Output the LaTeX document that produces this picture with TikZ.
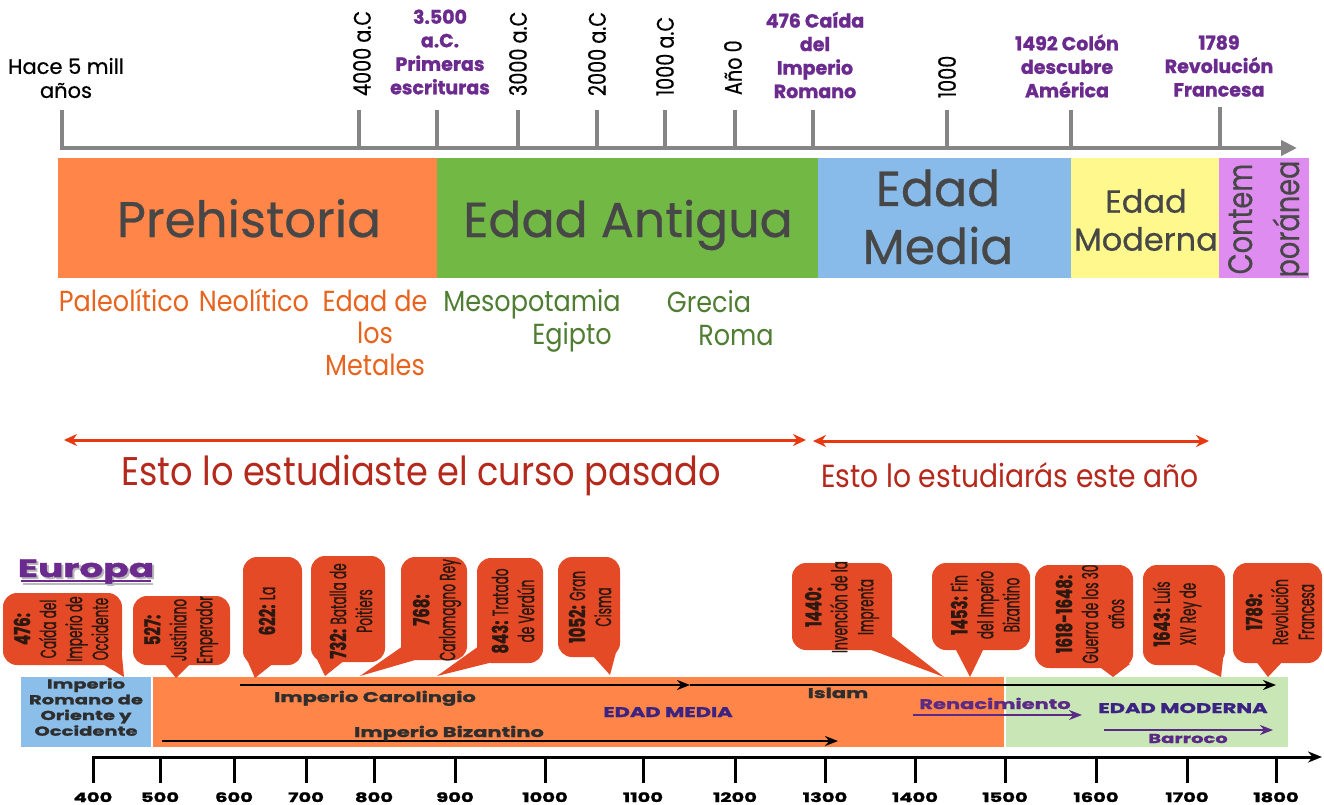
\documentclass[tikz,border=0pt]{standalone}
\usepackage{fontspec}
\setmainfont{Poppins}
\newfontfamily\condf[FakeStretch=0.55, FakeBold=1.0, BoldFeatures={FakeStretch=0.68}]{Poppins}
\newfontfamily\topcondf[FakeStretch=0.8, FakeBold=0.4]{Poppins}
\newfontfamily\narrowf[FakeStretch=0.88]{Poppins}
\newfontfamily\widef[FakeStretch=1.5, BoldFeatures={FakeBold=1.5}]{Poppins}
\newfontfamily\heavyf[BoldFeatures={FakeBold=1.2}]{Poppins}
\newfontfamily\medf[FakeBold=0.6]{Poppins}
\usetikzlibrary{arrows.meta}
\definecolor{axisgray}{HTML}{858585}
\definecolor{purpleT}{HTML}{6B2A8E}
\definecolor{bandtext}{HTML}{474747}
\definecolor{orangeB}{HTML}{FF8548}
\definecolor{greenB}{HTML}{72B845}
\definecolor{blueB}{HTML}{88BBE9}
\definecolor{yellowB}{HTML}{FFF88C}
\definecolor{violetB}{HTML}{DF8CF0}
\definecolor{orangeT}{HTML}{E8641E}
\definecolor{greenT}{HTML}{4F7D32}
\definecolor{redA}{HTML}{E8380F}
\definecolor{redT}{HTML}{B5281C}
\definecolor{callC}{HTML}{E54A26}
\definecolor{callT}{HTML}{2B1810}
\definecolor{lblue}{HTML}{8CBEEA}
\definecolor{lgreen}{HTML}{C9E6B6}
\definecolor{navyT}{HTML}{3A2383}
\definecolor{purpleB}{HTML}{5B2A86}
\definecolor{boxT}{HTML}{2E2E2E}
\newcommand{\mycallout}[8]{%
  \fill[callC, rounded corners=14pt] (#2,#3) rectangle (#4,#5);
  \fill[callC] #6 -- cycle;
  \node[calltext] (#1) at #7 {#8};
}
\begin{document}
\begin{tikzpicture}[x=1pt,y=-1pt]
\tikzset{
  every node/.append style={inner sep=0pt, outer sep=0pt},
  gaxis/.style={draw=axisgray, line width=4pt},
  purplelab/.style={text=purpleT, font=\heavyf\bfseries\fontsize{19}{23.5}\selectfont, align=center},
  rotlab/.style={rotate=90, anchor=west, text=black, font=\topcondf\fontsize{24}{28}\selectfont},
  bandlab/.style={text=bandtext},
  orlab/.style={text=orangeT, anchor=base, font=\narrowf\fontsize{29}{32}\selectfont},
  grlab/.style={text=greenT, anchor=base, font=\narrowf\fontsize{29}{32}\selectfont},
  redarrow/.style={draw=redA, line width=3pt, arrows={Stealth[length=13pt,width=12pt]-Stealth[length=13pt,width=12pt]}},
  redtext/.style={text=redT, anchor=base},
  calltext/.style={text=callT, rotate=90, align=center, font=\condf\fontsize{22}{26}\selectfont},
  boxlab/.style={text=boxT, anchor=base, font=\widef\bfseries\fontsize{14}{17}\selectfont},
  blackarrow/.style={draw=black, line width=2.5pt, arrows={-Stealth[length=13pt,width=10pt]}},
  purplearrow/.style={draw=purpleB, line width=2.5pt, arrows={-Stealth[length=13pt,width=10pt]}},
  numlab/.style={text=black, anchor=base, font=\widef\bfseries\fontsize{13}{16}\selectfont}
}
\useasboundingbox[fill=white] (0,0) rectangle (1324,805);

% ---------- top axis ----------
\foreach \x in {62,359,437,518,597,665,735,813,947,1071}
  \draw[gaxis] (\x,110) -- (\x,148);
\draw[gaxis] (1220,107) -- (1220,148);
\coordinate (ta0) at (60,148);
\coordinate (ta1) at (1297,148);
\draw[gaxis, arrows={-Triangle[length=16pt,width=15pt]}] (ta0) -- (ta1);

\node[align=center, text=black, font=\medf\fontsize{21}{24}\selectfont] (hace) at (66,78) {Hace 5 mill\\años};
\node[rotlab] (l4000) at (362,96) {4000 a.C};
\node[rotlab] (l3000) at (518,96) {3000 a.C};
\node[rotlab] (l2000) at (597,96) {2000 a.C};
\node[rotlab] (l1000ac) at (665,96) {1000 a.C};
\node[rotlab] (lano0) at (733,95) {Año 0};
\node[rotlab] (l1000) at (947,98) {1000};
\node[purplelab] (p3500) at (440,52) {3.500\\a.C.\\Primeras\\escrituras};
\node[purplelab] (p476) at (815,55) {476 Caída\\del\\Imperio\\Romano};
\node[purplelab] (p1492) at (1067,66) {1492 Colón\\descubre\\América};
\node[purplelab] (p1789) at (1219,66) {1789\\Revolución\\Francesa};

% ---------- bands ----------
\fill[orangeB] (58,158) rectangle (437,278);
\fill[greenB] (437,158) rectangle (818,278);
\fill[blueB] (818,158) rectangle (1071,278);
\fill[yellowB] (1071,158) rectangle (1219,278);
\fill[violetB] (1219,158) rectangle (1309,278);
\node[bandlab, anchor=base, font=\medf\fontsize{50}{60}\selectfont] (prehist) at (249,237) {Prehistoria};
\node[bandlab, anchor=base, font=\medf\fontsize{49}{58}\selectfont] (antigua) at (628,237) {Edad Antigua};
\node[bandlab, align=center, font=\medf\fontsize{49}{58}\selectfont] (media) at (938,217) {Edad\\Media};
\node[bandlab, align=center, font=\medf\fontsize{32}{38}\selectfont] (moderna) at (1146,220) {Edad\\Moderna};
\node[bandlab, rotate=90, align=center, font=\topcondf\fontsize{34}{47}\selectfont] (contemp) at (1268,219) {Contem\\poránea};

% ---------- sub periods ----------
\node[orlab] (paleo) at (124,311) {Paleolítico};
\node[orlab] (neo) at (254,311) {Neolítico};
\node[orlab, anchor=center, align=center] (metales) at (375,333) {Edad de\\los\\Metales};
\node[grlab] (meso) at (532,311) {Mesopotamia};
\node[grlab] (egipto) at (572,344) {Egipto};
\node[grlab] (grecia) at (709,312) {Grecia};
\node[grlab] (roma) at (736,345) {Roma};

% ---------- red arrows ----------
\coordinate (r1) at (64,440);
\coordinate (r2) at (806,440);
\draw[redarrow] (r1) -- (r2);
\coordinate (r3) at (813,441);
\coordinate (r4) at (1209,441);
\draw[redarrow] (r3) -- (r4);
\node[redtext, font=\narrowf\fontsize{40}{48}\selectfont] (pasado) at (421,485) {Esto lo estudiaste el curso pasado};
\node[redtext, font=\narrowf\fontsize{32}{38}\selectfont] (esteano) at (1010,487) {Esto lo estudiarás este año};

% ---------- Europa ----------
\draw[gray!55, line width=2.5pt] (23,584) -- (153,584);
\node[text=gray!55, anchor=base, font=\widef\bfseries\fontsize{25}{30}\selectfont] (europash) at (88,579) {Europa};
\draw[purpleT, line width=2.5pt] (21,581) -- (151,581);
\node[text=purpleT, anchor=base, font=\widef\bfseries\fontsize{25}{30}\selectfont] (europa) at (86,577) {Europa};

% ---------- bottom boxes ----------
\fill[lblue] (21,677) rectangle (151,747);
\fill[orangeB] (153,677) rectangle (1004,747);
\fill[lgreen] (1006,677) rectangle (1288,747);
\node[boxlab, anchor=center, align=center, font=\widef\bfseries\fontsize{13}{15.7}\selectfont] (romano) at (86,707) {Imperio\\Romano de\\Oriente y\\Occidente};

\coordinate (car0) at (240,685);
\coordinate (car1) at (690,685);
\coordinate (isl1) at (1276,685);
\draw[blackarrow] (car0) -- (car1);
\draw[blackarrow] (car1) -- (isl1);
\node[boxlab] (carol) at (375,702) {Imperio Carolingio};
\node[boxlab] (islam) at (838,698) {Islam};
\coordinate (biz0) at (162,741);
\coordinate (biz1) at (838,741);
\draw[blackarrow] (biz0) -- (biz1);
\node[boxlab] (bizan) at (449,737) {Imperio Bizantino};
\node[boxlab, text=navyT] (edmedia) at (668,717) {EDAD MEDIA};
\coordinate (ren0) at (913,715);
\coordinate (ren1) at (1082,715);
\draw[purplearrow] (ren0) -- (ren1);
\node[boxlab, text=purpleB] (renac) at (995,709) {Renacimiento};
\node[boxlab, text=navyT] (edmod) at (1183,713) {EDAD MODERNA};
\coordinate (bar0) at (1104,730);
\coordinate (bar1) at (1273,730);
\draw[purplearrow] (bar0) -- (bar1);
\node[boxlab, text=purpleB, font=\widef\bfseries\fontsize{13}{16}\selectfont] (barroco) at (1188,743) {Barroco};

% ---------- callouts ----------
\mycallout{c476}{3}{593}{122}{665}{(96,660) -- (124,677) -- (121,645)}{(61,629)}{{\bfseries 476:}\\Caída del\\Imperio de\\Occidente}
\mycallout{c527}{133}{596}{230}{665}{(163,662) -- (176,678) -- (192,662)}{(181,630)}{{\bfseries 527:}\\Justiniano\\Emperador}
\mycallout{c622}{243}{557}{302}{665}{(245,655) -- (255,678) -- (275,662)}{(267,611)}{{\bfseries 622:} La}
\mycallout{c732}{311}{556}{385}{662}{(315,655) -- (325,676) -- (345,660)}{(351,611)}{{\bfseries 732:} Batalla de\\Poitiers}
\mycallout{c768}{401}{557}{467}{660}{(403,646) -- (360,676) -- (422,658)}{(437,610)}{{\bfseries 768:}\\Carlomagno Rey}
\mycallout{c843}{477}{558}{543}{663}{(479,646) -- (437,676) -- (497,661)}{(513,611)}{{\bfseries 843:} Tratado\\de Verdún}
\mycallout{c1052}{558}{557}{620}{657}{(592,655) -- (610,675) -- (618,645)}{(590,607)}{{\bfseries 1052:} Gran\\Cisma}
\mycallout{c1440}{792}{563}{892}{650}{(866,648) -- (944,677) -- (890,635)}{(842,607)}{{\bfseries 1440:}\\Invención de la\\Imprenta}
\mycallout{c1453}{932}{563}{1030}{650}{(955,648) -- (970,677) -- (984,648)}{(985,605)}{{\bfseries 1453:} Fin\\del Imperio\\Bizantino}
\mycallout{c1618}{1035}{565}{1133}{668}{(1097,665) -- (1113,677) -- (1130,664)}{(1090,614)}{{\bfseries 1618-1648:}\\Guerra de los 30\\años}
\mycallout{c1643}{1143}{565}{1225}{665}{(1190,662) -- (1221,677) -- (1224,650)}{(1177,614)}{{\bfseries 1643:} Luís\\XIV Rey de}
\mycallout{c1789}{1233}{563}{1322}{663}{(1255,660) -- (1268,677) -- (1284,660)}{(1280,612)}{{\bfseries 1789:}\\Revolución\\Francesa}

% ---------- bottom axis ----------
\coordinate (ba0) at (92,757);
\coordinate (ba1) at (1322,757);
\draw[black, line width=3pt, arrows={-Stealth[length=14pt,width=11pt]}] (ba0) -- (ba1);
\foreach \v/\x in {400/93,500/160,600/234,700/306,800/374,900/455,1000/545,1100/643,1200/735,1300/825,1400/915,1500/1005,1600/1096,1700/1187,1800/1276} {
  \draw[black, line width=3pt] (\x,757) -- (\x,783);
  \node[numlab] (n\v) at (\x,802) {\v};
}
\end{tikzpicture}
\end{document}
